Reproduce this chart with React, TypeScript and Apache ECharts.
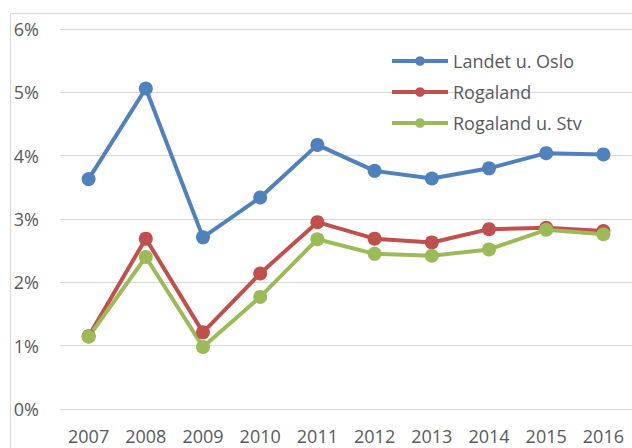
import React, { useEffect, useRef } from "react";
import * as echarts from "echarts";

const years = ["2007", "2008", "2009", "2010", "2011", "2012", "2013", "2014", "2015", "2016"];
const landetUOslo = [3.63, 5.06, 2.71, 3.34, 4.17, 3.76, 3.64, 3.8, 4.04, 4.02];
const rogaland = [1.15, 2.69, 1.21, 2.14, 2.95, 2.69, 2.63, 2.84, 2.86, 2.81];
const rogalandUStv = [1.14, 2.4, 0.98, 1.77, 2.68, 2.45, 2.42, 2.52, 2.83, 2.76];
const seriesNames = ["Landet u. Oslo", "Rogaland", "Rogaland u. Stv"];
const colors = ["#4F81BD", "#C0504D", "#9BBB59"];

export default function App() {
  const ref = useRef<HTMLDivElement>(null);
  useEffect(() => {
    if (!ref.current) return;
    const chart = echarts.init(ref.current, null, { renderer: "svg" });
    const font = "'Open Sans', 'Liberation Sans', sans-serif";
    const data = [landetUOslo, rogaland, rogalandUStv];
    chart.setOption({
      animation: false,
      textStyle: { fontFamily: font },
      graphic: [
        {
          type: "rect",
          shape: { x: 10.5, y: 13.5, width: 700, height: 500 },
          style: { fill: "none", stroke: "#d9d9d9", lineWidth: 1 },
          silent: true,
        },
      ],
      grid: { left: 60, right: 0, top: 29, bottom: 39 },
      legend: {
        orient: "vertical",
        left: 390,
        top: 51,
        padding: 0,
        itemWidth: 56,
        itemHeight: 12,
        itemGap: 11,
        data: seriesNames,
        lineStyle: { width: 4 },
        textStyle: { fontFamily: font, fontSize: 18, color: "#595959", lineHeight: 20 },
      },
      xAxis: {
        type: "category",
        data: years,
        boundaryGap: true,
        axisLine: { show: false },
        axisTick: { show: false },
        axisLabel: { fontFamily: font, fontSize: 18, color: "#595959", margin: 18 },
      },
      yAxis: {
        type: "value",
        min: 0,
        max: 6,
        interval: 1,
        axisLine: { show: false },
        axisTick: { show: false },
        splitLine: { lineStyle: { color: "#d9d9d9", width: 1.2 } },
        axisLabel: { fontFamily: font, fontSize: 18, color: "#595959", margin: 21, formatter: "{value}%" },
      },
      series: seriesNames.map((name, i) => ({
        name,
        type: "line",
        data: data[i],
        symbol: "circle",
        symbolSize: 14,
        lineStyle: { color: colors[i], width: 4 },
        itemStyle: { color: colors[i] },
        color: colors[i],
      })),
    });
    return () => chart.dispose();
  }, []);
  return (
    <div
      ref={ref}
      style={{ position: "fixed", left: 0, top: 0, width: 632, height: 448, background: "#fff" }}
    />
  );
}
